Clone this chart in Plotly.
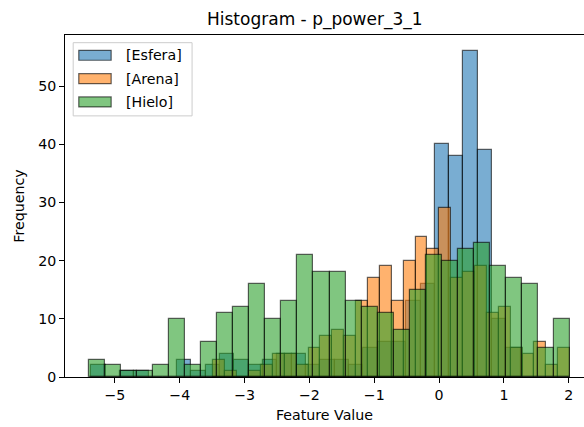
import numpy as np
import plotly.graph_objects as go

# Series names and per-bin counts (30 bins each)
series_names = ["[Esfera]", "[Arena]", "[Hielo]"]

esfera_counts = [2, 0, 1, 1, 0, 0, 3, 1, 2, 4, 3, 2, 3, 4, 4,
                 2, 3, 3, 2, 5, 6, 6, 13, 16, 40, 38, 56, 39, 10, 5]
arena_counts = [3, 1, 0, 1, 2, 4, 4, 2, 5, 7, 8, 7, 13, 17, 19,
                13, 20, 24, 22, 29, 17, 18, 19, 11, 12, 5, 4, 6, 2, 5]
hielo_counts = [3, 2, 1, 1, 2, 10, 2, 6, 11, 12, 16, 10, 13, 21, 18,
                18, 13, 12, 11, 8, 15, 21, 20, 22, 23, 19, 17, 16, 5, 10]

# Data range covered by each series' bins
esfera_range = [-5.365, 1.259]
arena_range = [-3.48, 2.02]
hielo_range = [-5.40, 2.02]

x_ticks = [-5, -4, -3, -2, -1, 0, 1, 2]
y_ticks = [0, 10, 20, 30, 40, 50]

face_colors = ["rgba(31,119,180,0.6)", "rgba(255,127,14,0.6)", "rgba(44,160,44,0.6)"]
edge_color = "rgba(0,0,0,0.6)"

W, H = 584, 427
L, T, B = 64.5, 35.0, 377.5
PW, PH = W - L, B - T


def px(xp):
    return (xp - L) / PW


def py(yp):
    return (B - yp) / PH


fig = go.Figure()
for name, counts, rng, col in zip(series_names,
                                  [esfera_counts, arena_counts, hielo_counts],
                                  [esfera_range, arena_range, hielo_range],
                                  face_colors):
    n = len(counts)
    edges = np.linspace(rng[0], rng[1], n + 1)
    centers = (edges[:-1] + edges[1:]) / 2
    width = edges[1] - edges[0]
    fig.add_trace(go.Bar(
        x=centers, y=counts, width=width, name=name,
        marker=dict(color=col, line=dict(color=edge_color, width=1.2)),
        showlegend=False,
    ))

fig.update_layout(
    width=W, height=H,
    margin=dict(l=L, r=0, t=T, b=H - B, pad=0),
    barmode="overlay",
    bargap=0,
    plot_bgcolor="white",
    paper_bgcolor="white",
    font=dict(family="DejaVu Sans", size=14.2, color="black"),
    xaxis=dict(
        range=[-5.77, 2.235], tickvals=x_ticks,
        ticks="outside", ticklen=4.9, tickwidth=1.1, tickcolor="black",
        showline=True, linecolor="black", linewidth=1.1, mirror=True,
        showgrid=False, zeroline=False,
        title=dict(text="Feature Value", font=dict(size=14.2), standoff=8),
    ),
    yaxis=dict(
        range=[0, 58.8], tickvals=y_ticks,
        ticks="outside", ticklen=4.9, tickwidth=1.1, tickcolor="black",
        showline=True, linecolor="black", linewidth=1.1, mirror=False,
        showgrid=False, zeroline=False,
        title=dict(text="Frequency", font=dict(size=14.2), standoff=10),
    ),
)

# Title
fig.add_annotation(
    text="Histogram - p_power_3_1", xref="paper", yref="paper",
    x=px(315), y=py(19), xanchor="center", yanchor="middle",
    showarrow=False, font=dict(size=17),
)

# Legend frame
fig.add_shape(type="rect", xref="paper", yref="paper",
              x0=px(72.7), x1=px(191.7), y0=py(116), y1=py(42.7),
              line=dict(color="#cccccc", width=1), fillcolor="rgba(255,255,255,0.8)")
row_y = [55.3, 78.7, 102.0]
for name, col, ry in zip(series_names, face_colors, row_y):
    fig.add_shape(type="rect", xref="paper", yref="paper",
                  x0=px(78.3), x1=px(110.7), y0=py(ry + 5), y1=py(ry - 5),
                  line=dict(color=edge_color, width=1.2), fillcolor=col)
    fig.add_annotation(text=name, xref="paper", yref="paper",
                       x=px(123.3), y=py(ry), xanchor="left", yanchor="middle",
                       showarrow=False, font=dict(size=14.2))

fig.write_html("out.html")
